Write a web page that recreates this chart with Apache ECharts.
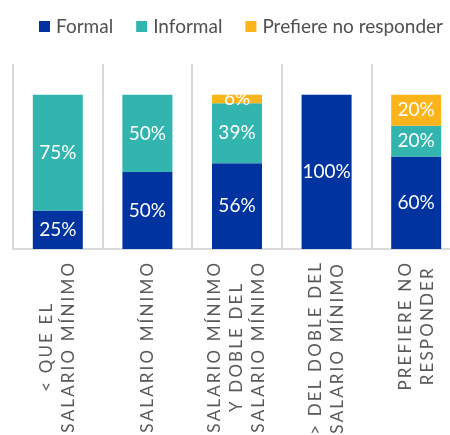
<!DOCTYPE html>
<html>
<head>
<meta charset="utf-8">
<script src="https://cdn.jsdelivr.net/npm/echarts@6/dist/echarts.min.js"></script>
<style>
  html, body { margin: 0; padding: 0; background: #fff; }
  #chart { width: 450px; height: 435px; }
</style>
</head>
<body>
<div id="chart"></div>
<script>
// Categories of monthly income relative to the minimum wage
const categories = [
  '< QUE EL\nSALARIO MÍNIMO',
  'SALARIO MÍNIMO',
  'SALARIO MÍNIMO\nY DOBLE DEL\nSALARIO MÍNIMO',
  '> DEL DOBLE DEL\nSALARIO MÍNIMO',
  'PREFIERE NO\nRESPONDER'
];

// Share of respondents (%) by type of employment
const formal = [25, 50, 55.6, 100, 60];
const informal = [75, 50, 38.9, 0, 20];
const noAnswer = [0, 0, 5.6, 0, 20];

const seriesNames = ['Formal', 'Informal', 'Prefiere no responder'];
const seriesColors = ['#0033A0', '#33B5AF', '#FBB41A'];

const FONT = 'Lato, "Open Sans", sans-serif';
const GAP = '\u2009';

// Widely tracked capitals for the category names
function spaced(line) {
  return Array.from(line).join(GAP);
}

function pctLabel(p) {
  const v = p.value;
  if (!v) return '';
  return Math.round(v) + '%';
}

const chart = echarts.init(document.getElementById('chart'), null, { renderer: 'canvas' });

const seriesData = [formal, informal, noAnswer];

chart.setOption({
  animation: false,
  legend: {
    top: 12,
    left: 34,
    width: 440,
    itemWidth: 11,
    itemHeight: 11,
    itemGap: 23,
    icon: 'rect',
    textStyle: { color: '#505050', fontSize: 19, fontFamily: FONT, padding: [0, 0, 0, 1] },
    data: seriesNames
  },
  grid: {
    left: 13,
    right: -11,
    top: 64,
    bottom: 186,
    containLabel: false,
    outerBoundsMode: 'none'
  },
  xAxis: {
    type: 'category',
    data: categories,
    boundaryGap: true,
    axisLine: { show: true, lineStyle: { color: '#D9D9D9', width: 2 } },
    axisTick: { show: false },
    splitLine: { show: true, interval: 0, lineStyle: { color: '#D9D9D9', width: 2 } },
    axisLabel: {
      interval: 0,
      rotate: 90,
      margin: 14,
      hideOverlap: false,
      formatter: function (value) {
        return value.split('\n').map(function (l) { return '{c|' + spaced(l) + '}'; }).join('\n');
      },
      rich: {
        c: {
          align: 'center',
          color: '#595959',
          fontSize: 17,
          fontFamily: FONT,
          lineHeight: 22
        }
      }
    }
  },
  yAxis: {
    type: 'value',
    min: 0,
    max: 120,
    show: false,
    splitLine: { show: false }
  },
  series: seriesNames.map(function (name, i) {
    return {
      name: name,
      type: 'bar',
      stack: 'total',
      barWidth: 50,
      data: seriesData[i],
      itemStyle: { color: seriesColors[i] },
      label: {
        show: true,
        position: 'inside',
        color: '#FFFFFF',
        fontSize: 19,
        fontFamily: FONT,
        formatter: pctLabel
      }
    };
  })
});
</script>
</body>
</html>
